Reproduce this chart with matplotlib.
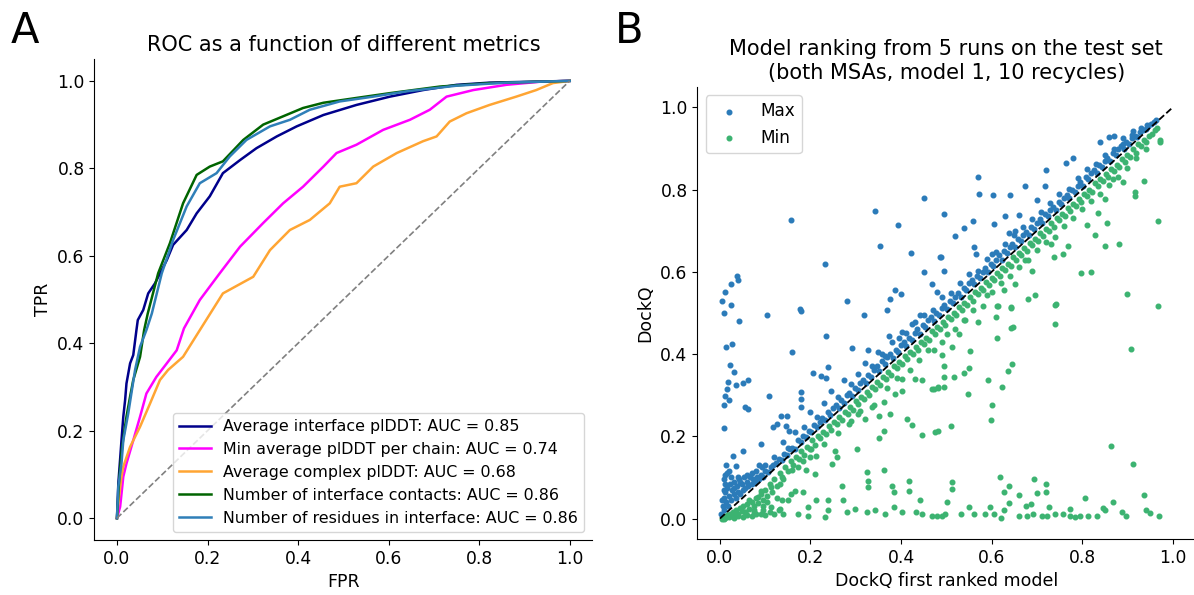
import matplotlib
matplotlib.use('Agg')
import matplotlib.pyplot as plt

# ---- panel A : ROC curves (fpr, tpr) ----
roc_interface = [(0, 0), (0.003, 0.079), (0.01, 0.178), (0.014, 0.232), (0.018, 0.27), (0.021, 0.308),
                 (0.029, 0.354), (0.036, 0.373), (0.043, 0.43), (0.046, 0.453), (0.058, 0.476), (0.069, 0.514),
                 (0.084, 0.537), (0.11, 0.59), (0.124, 0.625), (0.154, 0.659), (0.176, 0.697), (0.205, 0.736),
                 (0.234, 0.789), (0.272, 0.819), (0.308, 0.846), (0.353, 0.873), (0.397, 0.896), (0.456, 0.922),
                 (0.529, 0.945), (0.603, 0.964), (0.676, 0.979), (0.75, 0.991), (0.823, 0.996), (1, 1)]
roc_min_chain = [(0, 0), (0.007, 0.026), (0.014, 0.095), (0.021, 0.125), (0.036, 0.178), (0.051, 0.232),
                 (0.065, 0.285), (0.087, 0.323), (0.11, 0.354), (0.132, 0.384), (0.148, 0.434), (0.183, 0.499),
                 (0.227, 0.56), (0.272, 0.621), (0.323, 0.675), (0.367, 0.72), (0.411, 0.758), (0.456, 0.804),
                 (0.485, 0.835), (0.529, 0.854), (0.588, 0.888), (0.647, 0.911), (0.691, 0.934), (0.728, 0.964),
                 (0.787, 0.979), (0.86, 0.991), (0.934, 0.998), (1, 1)]
roc_complex = [(0, 0), (0.003, 0.034), (0.01, 0.095), (0.014, 0.118), (0.029, 0.163), (0.051, 0.209),
               (0.073, 0.262), (0.095, 0.316), (0.113, 0.339), (0.146, 0.369), (0.183, 0.43), (0.234, 0.514),
               (0.301, 0.552), (0.338, 0.613), (0.382, 0.659), (0.426, 0.682), (0.47, 0.72), (0.492, 0.758),
               (0.529, 0.766), (0.566, 0.804), (0.618, 0.835), (0.676, 0.862), (0.706, 0.873), (0.735, 0.907),
               (0.772, 0.926), (0.823, 0.945), (0.882, 0.964), (0.926, 0.979), (0.963, 0.995), (1, 1)]
roc_contacts = [(0, 0), (0.005, 0.09), (0.01, 0.15), (0.015, 0.19), (0.021, 0.232), (0.029, 0.278),
                (0.036, 0.316), (0.051, 0.369), (0.06, 0.43), (0.068, 0.468), (0.091, 0.56), (0.117, 0.629),
                (0.146, 0.72), (0.176, 0.785), (0.205, 0.804), (0.234, 0.816), (0.279, 0.865), (0.323, 0.9),
                (0.367, 0.919), (0.411, 0.938), (0.456, 0.95), (0.529, 0.961), (0.603, 0.972), (0.713, 0.987),
                (0.823, 0.995), (1, 1)]
roc_residues = [(0, 0), (0.003, 0.072), (0.01, 0.125), (0.014, 0.178), (0.025, 0.24), (0.04, 0.339),
                (0.051, 0.392), (0.065, 0.43), (0.077, 0.468), (0.099, 0.56), (0.124, 0.636), (0.154, 0.713),
                (0.183, 0.766), (0.22, 0.789), (0.249, 0.827), (0.286, 0.865), (0.338, 0.896), (0.382, 0.911),
                (0.426, 0.934), (0.492, 0.953), (0.566, 0.964), (0.639, 0.976), (0.75, 0.989), (0.86, 0.996), (1, 1)]

roc_labels = ['Average interface plDDT: AUC = 0.85',
              'Min average plDDT per chain: AUC = 0.74',
              'Average complex plDDT: AUC = 0.68',
              'Number of interface contacts: AUC = 0.86',
              'Number of residues in interface: AUC = 0.86']
roc_colors = ['darkblue', 'magenta', '#ffa533', 'darkgreen', '#2f7fb8']

# ---- panel B : DockQ of first ranked model vs max / min of 5 runs ----
max_outliers = [
    (0.005, 0.53), (0.011, 0.55), (0.024, 0.57), (0.037, 0.59), (0.04, 0.58), (0.024, 0.52), (0.01, 0.50),
    (0.042, 0.48), (0.013, 0.417), (0.026, 0.425), (0.023, 0.373), (0.03, 0.356), (0.017, 0.333),
    (0.036, 0.324), (0.05, 0.329), (0.063, 0.336), (0.016, 0.316), (0.011, 0.298), (0.021, 0.289),
    (0.01, 0.277), (0.056, 0.271), (0.062, 0.267), (0.01, 0.22), (0.013, 0.129), (0.036, 0.127),
    (0.028, 0.153), (0.05, 0.165), (0.011, 0.105), (0.008, 0.097), (0.091, 0.182), (0.087, 0.129),
    (0.093, 0.125), (0.156, 0.725), (0.231, 0.62), (0.28, 0.53), (0.177, 0.51), (0.342, 0.748),
    (0.353, 0.664), (0.393, 0.715), (0.422, 0.645), (0.451, 0.78), (0.451, 0.60), (0.469, 0.57),
    (0.485, 0.636), (0.387, 0.556), (0.40, 0.545), (0.375, 0.534), (0.48, 0.55), (0.104, 0.496),
    (0.178, 0.506), (0.319, 0.496), (0.37, 0.508), (0.234, 0.444), (0.16, 0.406), (0.291, 0.415),
    (0.326, 0.41), (0.108, 0.297), (0.206, 0.354), (0.224, 0.346), (0.234, 0.341), (0.239, 0.368),
    (0.18, 0.307), (0.18, 0.29), (0.179, 0.272), (0.134, 0.25), (0.149, 0.25), (0.117, 0.222),
    (0.127, 0.229), (0.147, 0.224), (0.152, 0.212), (0.571, 0.83), (0.573, 0.79), (0.604, 0.786),
    (0.64, 0.786), (0.673, 0.81), (0.72, 0.847), (0.717, 0.81), (0.764, 0.865), (0.78, 0.877),
    (0.84, 0.915), (0.86, 0.928), (0.87, 0.93), (0.89, 0.925), (0.913, 0.942), (0.944, 0.958),
    (0.495, 0.74), (0.558, 0.723), (0.52, 0.688), (0.538, 0.706), (0.606, 0.717), (0.63, 0.735),
    (0.66, 0.738), (0.70, 0.776), (0.562, 0.66), (0.566, 0.643), (0.60, 0.643), (0.638, 0.694),
    (0.651, 0.70), (0.489, 0.636), (0.495, 0.603), (0.373, 0.445), (0.402, 0.453), (0.424, 0.474),
    (0.442, 0.494), (0.358, 0.401), (0.005, 0.045), (0.008, 0.07), (0.012, 0.085), (0.015, 0.11),
    (0.02, 0.115), (0.025, 0.1), (0.03, 0.075), (0.04, 0.1), (0.045, 0.09), (0.06, 0.105), (0.07, 0.11),
    (0.08, 0.115), (0.1, 0.13)]
max_band = [
    (0.003, 0.01), (0.006, 0.03), (0.008, 0.05), (0.01, 0.02), (0.012, 0.065), (0.014, 0.04), (0.016, 0.075),
    (0.018, 0.03), (0.02, 0.055), (0.022, 0.085), (0.025, 0.045), (0.027, 0.07), (0.03, 0.06), (0.032, 0.09),
    (0.035, 0.05), (0.037, 0.08), (0.04, 0.065), (0.043, 0.095), (0.045, 0.06), (0.048, 0.085), (0.05, 0.07),
    (0.053, 0.1), (0.056, 0.075), (0.06, 0.09), (0.063, 0.08), (0.066, 0.1), (0.07, 0.085), (0.074, 0.095),
    (0.078, 0.088), (0.082, 0.1), (0.086, 0.095), (0.09, 0.105), (0.095, 0.1), (0.1, 0.115), (0.106, 0.112),
    (0.112, 0.125), (0.118, 0.13), (0.124, 0.135), (0.13, 0.145), (0.136, 0.142), (0.142, 0.158),
    (0.148, 0.155), (0.154, 0.168), (0.16, 0.172), (0.166, 0.17), (0.172, 0.19), (0.178, 0.185), (0.184, 0.2),
    (0.19, 0.198), (0.196, 0.212), (0.202, 0.21), (0.208, 0.228), (0.214, 0.222), (0.22, 0.235),
    (0.226, 0.245), (0.232, 0.24), (0.238, 0.258), (0.244, 0.252), (0.25, 0.268), (0.256, 0.275),
    (0.262, 0.27), (0.268, 0.288), (0.274, 0.282), (0.28, 0.3), (0.286, 0.305), (0.292, 0.298),
    (0.298, 0.318), (0.304, 0.312), (0.31, 0.33), (0.316, 0.338), (0.322, 0.33), (0.328, 0.35),
    (0.334, 0.345), (0.34, 0.362), (0.346, 0.37), (0.352, 0.36), (0.358, 0.382), (0.364, 0.375),
    (0.37, 0.392), (0.376, 0.4), (0.382, 0.39), (0.388, 0.41), (0.394, 0.405), (0.4, 0.422), (0.406, 0.43),
    (0.412, 0.42), (0.418, 0.44), (0.424, 0.435), (0.43, 0.452), (0.436, 0.46), (0.442, 0.45), (0.448, 0.47),
    (0.454, 0.465), (0.46, 0.482), (0.466, 0.49), (0.472, 0.48), (0.478, 0.5), (0.484, 0.495), (0.49, 0.512),
    (0.496, 0.52), (0.502, 0.51), (0.508, 0.53), (0.514, 0.525), (0.52, 0.54), (0.526, 0.548), (0.532, 0.54),
    (0.538, 0.56), (0.544, 0.555), (0.55, 0.572), (0.556, 0.58), (0.562, 0.57), (0.568, 0.59), (0.574, 0.585),
    (0.58, 0.6), (0.586, 0.61), (0.592, 0.6), (0.598, 0.62), (0.604, 0.615), (0.61, 0.63), (0.616, 0.64),
    (0.622, 0.63), (0.628, 0.65), (0.634, 0.645), (0.64, 0.66), (0.646, 0.668), (0.652, 0.66), (0.658, 0.68),
    (0.664, 0.675), (0.67, 0.69), (0.676, 0.698), (0.682, 0.69), (0.688, 0.71), (0.694, 0.705), (0.7, 0.72),
    (0.706, 0.728), (0.712, 0.72), (0.718, 0.74), (0.724, 0.735), (0.73, 0.75), (0.736, 0.758), (0.742, 0.75),
    (0.748, 0.77), (0.754, 0.765), (0.76, 0.78), (0.766, 0.788), (0.772, 0.78), (0.778, 0.8), (0.784, 0.795),
    (0.79, 0.81), (0.796, 0.818), (0.802, 0.81), (0.808, 0.83), (0.814, 0.825), (0.82, 0.84), (0.826, 0.848),
    (0.832, 0.84), (0.838, 0.86), (0.844, 0.855), (0.85, 0.87), (0.856, 0.878), (0.862, 0.87), (0.868, 0.89),
    (0.874, 0.885), (0.88, 0.9), (0.886, 0.905), (0.892, 0.9), (0.898, 0.915), (0.904, 0.912), (0.91, 0.925),
    (0.916, 0.93), (0.922, 0.928), (0.928, 0.94), (0.934, 0.945), (0.94, 0.948), (0.946, 0.955),
    (0.952, 0.96), (0.958, 0.965), (0.964, 0.97),
    (0.12, 0.15), (0.14, 0.185), (0.15, 0.172), (0.165, 0.21), (0.185, 0.222), (0.2, 0.26), (0.215, 0.246),
    (0.23, 0.282), (0.245, 0.31), (0.26, 0.296), (0.275, 0.338), (0.29, 0.326), (0.305, 0.352), (0.32, 0.378),
    (0.335, 0.372), (0.35, 0.405), (0.365, 0.396), (0.38, 0.43), (0.395, 0.438), (0.41, 0.452), (0.43, 0.478),
    (0.45, 0.496), (0.47, 0.508), (0.49, 0.54), (0.51, 0.548), (0.53, 0.572), (0.55, 0.595), (0.57, 0.602),
    (0.59, 0.632), (0.61, 0.648), (0.63, 0.668), (0.65, 0.69), (0.67, 0.708), (0.69, 0.728), (0.71, 0.745),
    (0.73, 0.768), (0.75, 0.79), (0.77, 0.802), (0.79, 0.828), (0.81, 0.85), (0.83, 0.862), (0.85, 0.885),
    (0.87, 0.898), (0.89, 0.912), (0.91, 0.932), (0.93, 0.95)]

min_outliers = [
    (0.402, 0.34), (0.431, 0.34), (0.447, 0.336), (0.469, 0.316), (0.482, 0.319), (0.387, 0.304),
    (0.402, 0.311), (0.362, 0.283), (0.336, 0.271), (0.352, 0.25), (0.376, 0.255), (0.321, 0.243),
    (0.306, 0.255), (0.284, 0.23), (0.362, 0.214), (0.352, 0.195), (0.413, 0.243), (0.424, 0.227),
    (0.447, 0.202), (0.476, 0.21), (0.302, 0.17), (0.254, 0.165), (0.258, 0.149), (0.247, 0.133),
    (0.213, 0.153), (0.202, 0.17), (0.184, 0.141), (0.173, 0.125), (0.21, 0.109), (0.191, 0.117),
    (0.324, 0.113), (0.328, 0.092), (0.328, 0.076), (0.362, 0.117), (0.38, 0.08), (0.384, 0.064),
    (0.417, 0.092), (0.417, 0.068), (0.443, 0.044), (0.269, 0.08), (0.271, 0.044), (0.239, 0.044),
    (0.239, 0.02), (0.213, 0.044), (0.195, 0.028), (0.15, 0.044), (0.158, 0.06), (0.136, 0.044),
    (0.113, 0.028), (0.132, 0.024), (0.165, 0.068), (0.184, 0.064), (0.113, 0.076), (0.132, 0.084),
    (0.139, 0.097), (0.091, 0.068), (0.076, 0.015), (0.095, 0.02), (0.173, 0.011), (0.195, 0.007),
    (0.232, 0.003), (0.28, 0.015), (0.299, 0.024), (0.324, 0.015), (0.343, 0.02), (0.365, 0.011),
    (0.384, 0.028), (0.402, 0.015), (0.432, 0.015), (0.447, 0.011), (0.469, 0.007), (0.491, 0.007),
    (0.615, 0.517), (0.644, 0.513), (0.741, 0.52), (0.967, 0.517), (0.61, 0.49), (0.739, 0.474),
    (0.571, 0.477), (0.541, 0.483), (0.642, 0.464), (0.647, 0.467), (0.502, 0.449), (0.529, 0.449),
    (0.612, 0.439), (0.512, 0.417), (0.552, 0.407), (0.473, 0.41), (0.491, 0.397), (0.907, 0.413),
    (0.496, 0.371), (0.551, 0.367), (0.539, 0.354), (0.495, 0.345), (0.518, 0.345), (0.637, 0.359),
    (0.645, 0.375), (0.593, 0.336), (0.624, 0.321), (0.473, 0.316), (0.482, 0.318), (0.495, 0.321),
    (0.547, 0.303), (0.60, 0.277), (0.599, 0.24), (0.482, 0.212), (0.51, 0.225), (0.864, 0.176),
    (0.913, 0.132), (0.513, 0.088), (0.512, 0.072), (0.619, 0.102), (0.639, 0.08), (0.628, 0.064),
    (0.66, 0.056), (0.693, 0.097), (0.721, 0.085), (0.721, 0.064), (0.701, 0.062), (0.502, 0.041),
    (0.638, 0.038), (0.675, 0.03), (0.687, 0.036), (0.807, 0.049), (0.869, 0.041), (0.937, 0.058),
    (0.727, 0.028), (0.773, 0.024), (0.847, 0.026), (0.596, 0.028), (0.551, 0.028), (0.48, 0.007),
    (0.498, 0.011), (0.533, 0.011), (0.561, 0.011), (0.585, 0.01), (0.606, 0.011), (0.621, 0.002),
    (0.628, 0.02), (0.66, 0.007), (0.679, 0.007), (0.691, 0.01), (0.712, 0.007), (0.723, 0.005),
    (0.739, 0.01), (0.758, 0.011), (0.773, 0.007), (0.784, 0.003), (0.795, 0.007), (0.813, 0.007),
    (0.833, 0.005), (0.85, 0.02), (0.887, 0.015), (0.897, 0.007), (0.941, 0.021), (0.95, 0.014),
    (0.969, 0.007), (0.936, 0.822), (0.917, 0.794), (0.917, 0.785), (0.967, 0.723), (0.899, 0.547),
    (0.869, 0.826), (0.89, 0.819), (0.85, 0.778), (0.834, 0.744), (0.854, 0.719), (0.828, 0.689),
    (0.81, 0.713), (0.85, 0.663), (0.882, 0.667), (0.797, 0.597), (0.819, 0.6), (0.738, 0.636),
    (0.758, 0.643), (0.769, 0.664), (0.732, 0.667), (0.69, 0.603), (0.673, 0.628), (0.652, 0.571),
    (0.695, 0.543), (0.68, 0.535), (0.743, 0.522), (0.643, 0.515), (0.613, 0.518), (0.59, 0.543),
    (0.627, 0.555), (0.973, 0.921), (0.972, 0.915),
    (0.01, 0.0), (0.02, 0.003), (0.03, 0.002), (0.04, 0.005), (0.05, 0.004), (0.06, 0.008), (0.07, 0.006),
    (0.08, 0.01), (0.09, 0.012), (0.1, 0.008), (0.11, 0.015), (0.12, 0.01), (0.13, 0.02), (0.14, 0.012),
    (0.035, 0.01), (0.055, 0.015), (0.075, 0.02), (0.095, 0.03), (0.065, 0.045), (0.085, 0.052),
    (0.105, 0.04), (0.125, 0.05)]
min_band = [
    (0.005, 0.0), (0.008, 0.004), (0.012, 0.002), (0.015, 0.008), (0.018, 0.005), (0.022, 0.012),
    (0.025, 0.006), (0.028, 0.015), (0.032, 0.01), (0.035, 0.02), (0.04, 0.012), (0.044, 0.025),
    (0.048, 0.018), (0.052, 0.03), (0.056, 0.015), (0.06, 0.035), (0.065, 0.022), (0.07, 0.04),
    (0.075, 0.03), (0.08, 0.05), (0.085, 0.038), (0.09, 0.06), (0.095, 0.045), (0.1, 0.07), (0.105, 0.055),
    (0.11, 0.085), (0.115, 0.065), (0.12, 0.095), (0.126, 0.08), (0.132, 0.11), (0.138, 0.1),
    (0.144, 0.125), (0.15, 0.115), (0.156, 0.14), (0.162, 0.13), (0.168, 0.15), (0.174, 0.145),
    (0.18, 0.165), (0.186, 0.155), (0.192, 0.175), (0.198, 0.17), (0.204, 0.19), (0.21, 0.18), (0.216, 0.2),
    (0.222, 0.195), (0.228, 0.21), (0.234, 0.205), (0.24, 0.225), (0.246, 0.215), (0.252, 0.235),
    (0.258, 0.23), (0.264, 0.248), (0.27, 0.24), (0.276, 0.26), (0.282, 0.255), (0.288, 0.272),
    (0.294, 0.265), (0.3, 0.285), (0.306, 0.278), (0.312, 0.295), (0.318, 0.29), (0.324, 0.308),
    (0.33, 0.3), (0.336, 0.32), (0.342, 0.315), (0.348, 0.332), (0.354, 0.325), (0.36, 0.345),
    (0.366, 0.34), (0.372, 0.356), (0.378, 0.35), (0.384, 0.37), (0.39, 0.365), (0.396, 0.38),
    (0.402, 0.375), (0.408, 0.395), (0.414, 0.388), (0.42, 0.405), (0.426, 0.4), (0.432, 0.418),
    (0.438, 0.41), (0.444, 0.43), (0.45, 0.425), (0.456, 0.44), (0.462, 0.435), (0.468, 0.455),
    (0.474, 0.448), (0.48, 0.465), (0.486, 0.46), (0.492, 0.478), (0.498, 0.47), (0.504, 0.49),
    (0.51, 0.485), (0.516, 0.5), (0.522, 0.495), (0.528, 0.515), (0.534, 0.508), (0.54, 0.525),
    (0.546, 0.52), (0.552, 0.538), (0.558, 0.53), (0.564, 0.55), (0.57, 0.545), (0.576, 0.56),
    (0.582, 0.555), (0.588, 0.575), (0.594, 0.568), (0.6, 0.585), (0.606, 0.58), (0.612, 0.598),
    (0.618, 0.59), (0.624, 0.61), (0.63, 0.605), (0.636, 0.62), (0.642, 0.615), (0.648, 0.635),
    (0.654, 0.628), (0.66, 0.645), (0.666, 0.64), (0.672, 0.658), (0.678, 0.65), (0.684, 0.67),
    (0.69, 0.665), (0.696, 0.68), (0.702, 0.675), (0.708, 0.695), (0.714, 0.688), (0.72, 0.705),
    (0.726, 0.7), (0.732, 0.718), (0.738, 0.71), (0.744, 0.73), (0.75, 0.725), (0.756, 0.74),
    (0.762, 0.735), (0.768, 0.755), (0.774, 0.748), (0.78, 0.765), (0.786, 0.76), (0.792, 0.778),
    (0.798, 0.77), (0.804, 0.79), (0.81, 0.785), (0.816, 0.8), (0.822, 0.795), (0.828, 0.815),
    (0.834, 0.808), (0.84, 0.825), (0.846, 0.82), (0.852, 0.838), (0.858, 0.83), (0.864, 0.85),
    (0.87, 0.845), (0.876, 0.86), (0.882, 0.855), (0.888, 0.875), (0.894, 0.868), (0.9, 0.885),
    (0.906, 0.88), (0.912, 0.898), (0.918, 0.89), (0.924, 0.91), (0.93, 0.905), (0.936, 0.92),
    (0.942, 0.915), (0.948, 0.93), (0.954, 0.935), (0.96, 0.945), (0.966, 0.95),
    (0.16, 0.118), (0.2, 0.15), (0.23, 0.182), (0.26, 0.208), (0.29, 0.236), (0.31, 0.262), (0.34, 0.276),
    (0.37, 0.318), (0.39, 0.342), (0.42, 0.362), (0.44, 0.385), (0.46, 0.41), (0.49, 0.43), (0.52, 0.462),
    (0.54, 0.482), (0.56, 0.508), (0.58, 0.518), (0.6, 0.552), (0.62, 0.572), (0.64, 0.59), (0.66, 0.612),
    (0.68, 0.628), (0.7, 0.652), (0.72, 0.672), (0.74, 0.686), (0.76, 0.712), (0.78, 0.73), (0.8, 0.752),
    (0.82, 0.772), (0.84, 0.79), (0.86, 0.812), (0.88, 0.83), (0.9, 0.852), (0.92, 0.878), (0.94, 0.9)]

fig = plt.figure(figsize=(11.94, 5.95), dpi=100)
ax1 = fig.add_axes([0.079, 0.0924, 0.4171, 0.8084])
ax2 = fig.add_axes([0.584, 0.0940, 0.4171, 0.7600])

# A
for curve, lab, col in zip([roc_interface, roc_min_chain, roc_complex, roc_contacts, roc_residues],
                           roc_labels, roc_colors):
    fx, ty = zip(*curve)
    ax1.plot(fx, ty, color=col, lw=1.8, label=lab)
ax1.plot([0, 1], [0, 1], ls='--', color='grey', lw=1.2)
ax1.legend(loc='lower right', fontsize=11.4)
ax1.set_title('ROC as a function of different metrics', fontsize=15)
ax1.set_xlabel('FPR', fontsize=12.5)
ax1.set_ylabel('TPR', fontsize=12.5)

# B
mx, my = zip(*(max_band + max_outliers))
nx, ny = zip(*(min_band + min_outliers))
ax2.scatter(mx, my, s=11, color='#2b7bb9', label='Max')
ax2.scatter(nx, ny, s=11, color='#3cb371', label='Min')
ax2.plot([0, 1], [0, 1], ls='--', color='black', lw=1.3, zorder=5)
ax2.legend(loc='upper left', fontsize=12.2)
ax2.set_title('Model ranking from 5 runs on the test set\n(both MSAs, model 1, 10 recycles)', fontsize=15)
ax2.set_xlabel('DockQ first ranked model', fontsize=12.5)
ax2.set_ylabel('DockQ', fontsize=12.5)

for ax in (ax1, ax2):
    ax.spines['top'].set_visible(False)
    ax.spines['right'].set_visible(False)
    ax.tick_params(labelsize=12.3)
    ax.set_xticks([0, 0.2, 0.4, 0.6, 0.8, 1.0])
    ax.set_yticks([0, 0.2, 0.4, 0.6, 0.8, 1.0])

fig.text(11 / 1194, 1 - 10 / 595, 'A', fontsize=30, va='top')
fig.text(615 / 1194, 1 - 10 / 595, 'B', fontsize=30, va='top')

fig.savefig('out.png', dpi=100)
